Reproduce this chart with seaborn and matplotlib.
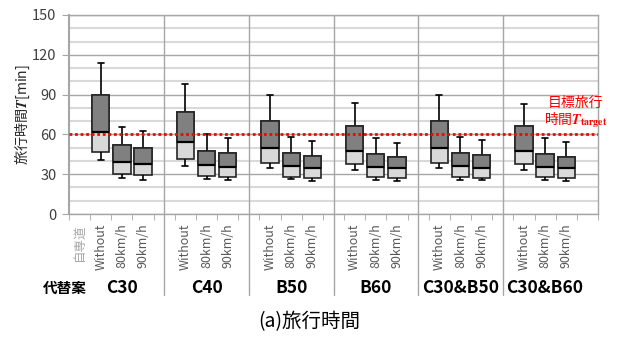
import numpy as np
import pandas as pd
import matplotlib
matplotlib.use("Agg")
import matplotlib.pyplot as plt
import matplotlib.transforms as mtransforms
from matplotlib.patches import Rectangle
import seaborn as sns

# ---------------- data ----------------
groups = ["C30", "C40", "B50", "B60", "C30&B50", "C30&B60"]
speeds = ["Without", "80km/h", "90km/h"]
base_label = "自専道"
group_title = "代替案"

wmax = [113.8, 65.8, 62.3, 98.0, 60.3, 57.5, 89.5, 58.3, 55.0,
        83.3, 57.0, 53.5, 89.5, 58.3, 55.5, 82.8, 57.5, 54.5]
q3 = [89.5, 52.0, 50.0, 77.0, 47.5, 46.0, 70.3, 46.0, 44.0,
      66.3, 45.5, 43.3, 70.3, 46.0, 44.5, 66.3, 45.5, 43.3]
med = [61.8, 39.3, 38.0, 54.3, 36.8, 35.3, 50.0, 36.0, 34.8,
       47.5, 35.3, 34.3, 50.0, 36.0, 34.8, 47.5, 35.3, 34.3]
q1 = [47.0, 30.0, 29.3, 41.5, 28.5, 28.0, 38.8, 27.8, 27.3,
      37.5, 28.0, 27.3, 38.8, 28.0, 27.3, 37.5, 28.0, 27.3]
wmin = [41.0, 27.5, 26.0, 36.0, 26.3, 25.5, 34.3, 26.3, 25.0,
        33.3, 25.5, 24.8, 34.3, 25.5, 25.5, 33.0, 25.5, 24.8]

target = 60
yticks = [0, 30, 60, 90, 120, 150]
ylabel = "旅行時間$\\mathbfit{T}$[min]"
target_label = "目標旅行\n時間$\\mathbfit{T}_{\\mathbf{target}}$"
title = "(a)旅行時間"

# ---------------- style ----------------
sns.set_style("white")
plt.rcParams["font.family"] = ["Noto Sans CJK JP", "DejaVu Sans"]
plt.rcParams["mathtext.fontset"] = "stix"

order = [base_label]
ticklabels = [base_label]
box_keys = []
gap_keys = []
for i, g in enumerate(groups):
    for s in speeds:
        key = f"{g}|{s}"
        order.append(key)
        ticklabels.append(s)
        box_keys.append(key)
    order.append(f"gap{i}")
    gap_keys.append(f"gap{i}")
    ticklabels.append("")

rows = []
for j, key in enumerate(box_keys):
    for v in (wmin[j], q1[j], med[j], q3[j], wmax[j]):
        rows.append({"slot": key, "value": v})
df = pd.DataFrame(rows)

fig = plt.figure(figsize=(6.18, 3.4), dpi=100)
ax = fig.add_axes([69 / 618, 1 - 214 / 340, (598 - 69) / 618, 199 / 340])

BOX_W = 0.82
EDGE = "#262626"
sns.boxplot(data=df, x="slot", y="value", order=order, ax=ax, width=BOX_W,
            whis=(0, 100), showfliers=False, color="#d9d9d9", saturation=1,
            linecolor=EDGE, linewidth=1.2,
            medianprops=dict(color="#000000", linewidth=1.6, zorder=5),
            whiskerprops=dict(color="#000000"),
            capprops=dict(gid="cap", color="#000000"),
            boxprops=dict(zorder=2))

# upper (median -> Q3) dark part of each box
for j, key in enumerate(box_keys):
    pos = order.index(key)
    ax.add_patch(Rectangle((pos - BOX_W / 2, med[j]), BOX_W, q3[j] - med[j],
                           facecolor="#808080", edgecolor=EDGE, lw=1.2, zorder=3))

# narrower caps
for line in ax.lines:
    if line.get_gid() == "cap":
        xd = np.asarray(line.get_xdata(), dtype=float)
        c = xd.mean()
        line.set_xdata([c - 0.14, c + 0.14])

# target line
ax.axhline(target, color="#ff0000", ls=(0, (1, 1)), lw=2, zorder=6)
ax.text(23.45, 76, target_label, color="#ff0000", fontsize=10, ha="center",
        va="center", clip_on=False, zorder=7, linespacing=1.0)

# axes
ax.set_xlim(-0.5, len(order) - 0.5)
ax.set_ylim(0, 150)
ax.set_yticks(yticks)
ax.set_yticks([v for v in range(0, 151, 10) if v % 30], minor=True)
ax.set_axisbelow(True)
ax.grid(axis="y", which="major", color="#a6a6a6", lw=1)
ax.grid(axis="y", which="minor", color="#d9d9d9", lw=1.5)
ax.grid(axis="x", visible=False)
ax.tick_params(axis="y", which="major", length=5, color="#a6a6a6",
               labelsize=10.5, labelcolor="#404040", pad=4, left=True)
ax.tick_params(axis="y", which="minor", length=0)

ax.set_xticks(range(len(order)))
ax.set_xticklabels(ticklabels, rotation=90)
ax.set_xticks(np.arange(-0.5, len(order), 1.0), minor=True)
ax.tick_params(axis="x", which="major", length=0, labelsize=9,
               labelcolor="#595959", pad=7)
ax.tick_params(axis="x", which="minor", length=4, color="#a6a6a6", bottom=True)
ax.get_xticklabels()[0].set_color("#a6a6a6")

ax.set_xlabel("")
ax.set_ylabel(ylabel, fontsize=10.2)
ax.yaxis.set_label_coords(-0.069, 0.5)

for s in ax.spines.values():
    s.set_visible(True)
    s.set_color("#a6a6a6")
    s.set_linewidth(1)
ax.spines["left"].set_linewidth(1.5)

blend = mtransforms.blended_transform_factory(ax.transData, ax.transAxes)
for gk in gap_keys[:-1]:
    p = order.index(gk)
    ax.plot([p, p], [1, -(295 - 214) / 199], transform=blend, color="#a6a6a6",
            lw=1, clip_on=False, zorder=1)

label_y = (214 - 288) / 199
for g in groups:
    ps = [order.index(f"{g}|{s}") for s in speeds]
    ax.text(np.mean(ps), label_y, g, transform=blend, ha="center", va="center",
            fontsize=12.5, fontweight="bold", color="black")
ax.text(-0.69, label_y, group_title, transform=blend, ha="center", va="center",
        fontsize=10.5, fontweight="bold", color="black")

fig.text(0.5, 1 - 322 / 340, title, ha="center", va="center", fontsize=14,
         color="black")

fig.savefig("out.png", dpi=100)
